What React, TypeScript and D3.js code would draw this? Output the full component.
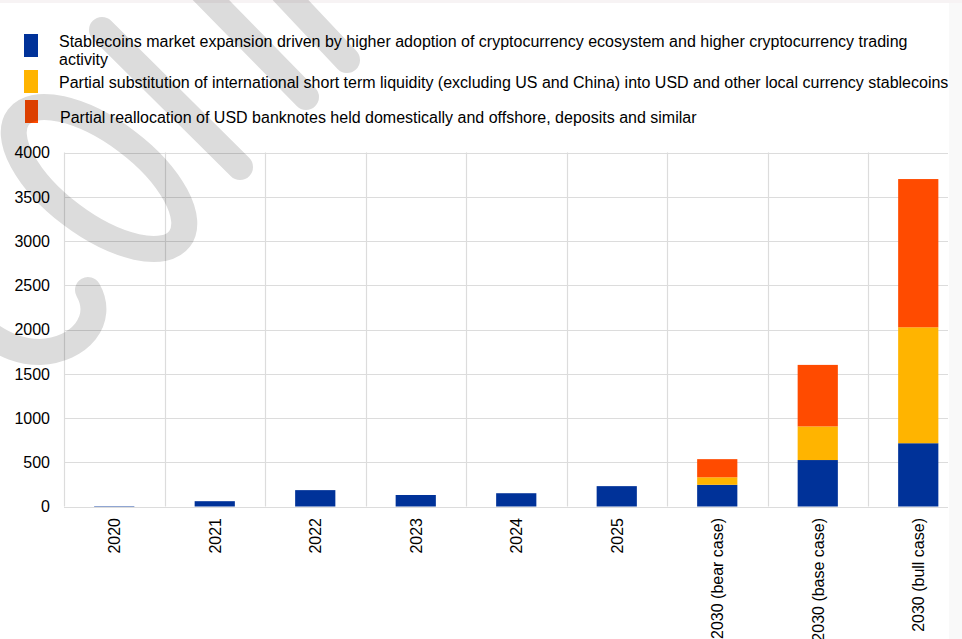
import React from "react";
import * as d3 from "d3";

// Scenario categories and stacked series values (USD bn)
const categories = [
  "2020",
  "2021",
  "2022",
  "2023",
  "2024",
  "2025",
  "2030 (bear case)",
  "2030 (base case)",
  "2030 (bull case)",
];
const adoption = [5, 60, 185, 130, 150, 230, 245, 525, 715];
const substitution = [0, 0, 0, 0, 0, 0, 85, 380, 1310];
const reallocation = [0, 0, 0, 0, 0, 0, 205, 695, 1675];

const seriesKeys = ["adoption", "substitution", "reallocation"];
const seriesLabels = [
  [
    "Stablecoins market expansion driven by higher adoption of cryptocurrency ecosystem and higher cryptocurrency trading",
    "activity",
  ],
  [
    "Partial substitution of international short term liquidity (excluding US and China) into USD and other local currency stablecoins",
  ],
  ["Partial reallocation of USD banknotes held domestically and offshore, deposits and similar"],
];
const seriesColors = ["#003299", "#ffb400", "#ff4b00"];
const yTicks = [0, 500, 1000, 1500, 2000, 2500, 3000, 3500, 4000];

const W = 962;
const H = 639;
const FONT = "'Liberation Sans', Arial, sans-serif";

export default function App() {
  const plotLeft = 64;
  const plotRight = 948;
  const step = 100.5;

  const slots = d3
    .scaleBand<string>()
    .domain(categories)
    .range([plotLeft, plotLeft + step * categories.length])
    .padding(0);
  const x = d3
    .scaleBand<string>()
    .domain(categories)
    .range([plotLeft, plotLeft + step * categories.length])
    .paddingInner(0.6)
    .paddingOuter(0.3);
  const y = d3.scaleLinear().domain([0, 4000]).range([506.5, 152.5]);

  const table = categories.map((c, i) => ({
    category: c,
    adoption: adoption[i],
    substitution: substitution[i],
    reallocation: reallocation[i],
  }));
  const stacked = d3.stack<any>().keys(seriesKeys)(table);

  const grid = "#dcdcdc";

  // legend rows: swatch box and text baselines
  const legendRows = [
    { sy: 34, sh: 23, sx: 24, lines: [46.5, 65], tx: 59 },
    { sy: 70, sh: 23, sx: 24, lines: [88], tx: 59 },
    { sy: 100, sh: 23, sx: 25, lines: [122.5], tx: 60 },
  ];

  return (
    <svg
      width={W}
      height={H}
      style={{ position: "absolute", left: 0, top: 0 }}
      fontFamily={FONT}
    >
      <defs>
        <clipPath id="plot-clip">
          <rect x={0} y={0} width={plotRight + 0.5} height={H} />
        </clipPath>
      </defs>
      <rect x={0} y={0} width={W} height={H} fill="#ffffff" />
      <rect x={0} y={0} width={W} height={3} fill="#f7f3f4" />
      <rect x={949} y={3} width={W - 949} height={H - 3} fill="#f9f9f9" />

      {/* gridlines */}
      <g clipPath="url(#plot-clip)">
        {yTicks.map((t) => (
          <line
            key={"h" + t}
            x1={plotLeft}
            x2={plotRight}
            y1={Math.round(y(t)) + 0.5}
            y2={Math.round(y(t)) + 0.5}
            stroke={grid}
            strokeWidth={1.2}
          />
        ))}
        {categories.map((c) => (
          <line
            key={"v" + c}
            x1={Math.round(slots(c)!) + 0.5}
            x2={Math.round(slots(c)!) + 0.5}
            y1={y(4000)}
            y2={y(0)}
            stroke={grid}
            strokeWidth={1.2}
          />
        ))}
      </g>

      {/* stacked bars */}
      {stacked.map((layer, si) => (
        <g key={layer.key} fill={seriesColors[si]}>
          {layer.map((d, i) =>
            d[1] - d[0] > 0 ? (
              <rect
                key={i}
                x={x(categories[i])}
                width={x.bandwidth()}
                y={y(d[1])}
                height={y(d[0]) - y(d[1])}
              />
            ) : null
          )}
        </g>
      ))}

      {/* y tick labels */}
      {yTicks.map((t) => (
        <text
          key={"yl" + t}
          x={50}
          y={y(t)}
          dy="0.36em"
          textAnchor="end"
          fontSize={16}
          fill="#000"
        >
          {t}
        </text>
      ))}

      {/* x tick labels */}
      {categories.map((c) => {
        const cx = x(c)! + x.bandwidth() / 2;
        return (
          <text
            key={"xl" + c}
            transform={`translate(${cx},518) rotate(-90)`}
            dy="0.36em"
            textAnchor="end"
            fontSize={16}
            fill="#000"
          >
            {c}
          </text>
        );
      })}

      {/* legend */}
      {legendRows.map((r, i) => (
        <g key={"lg" + i}>
          <rect x={r.sx} y={r.sy} width={38 - r.sx} height={r.sh} fill={seriesColors[i]} />
          {seriesLabels[i].map((line, li) => (
            <text key={li} x={r.tx} y={r.lines[li]} fontSize={16} fill="#000">
              {line}
            </text>
          ))}
        </g>
      ))}

      {/* watermark strokes */}
      <g
        opacity={0.14}
        fill="none"
        stroke="#000"
        strokeWidth={26}
        strokeLinecap="round"
      >
        <line x1={102} y1={30} x2={240} y2={167} />
        <line x1={203} y1={-8} x2={306} y2={97} />
        <line x1={283} y1={-8} x2={347} y2={60} />
        <ellipse cx={99} cy={178} rx={101} ry={46} transform="rotate(37 99 178)" />
        <path d="M 88 290 C 105 320, 80 350, 40 352 C 20 352, 5 345, -10 335" />
      </g>
    </svg>
  );
}
